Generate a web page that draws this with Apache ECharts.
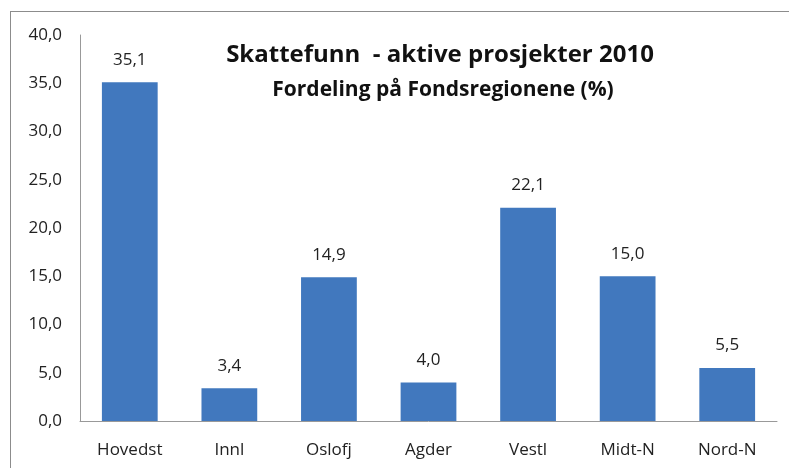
<!DOCTYPE html>
<html>
<head>
<meta charset="utf-8">
<script src="https://cdn.jsdelivr.net/npm/echarts@6/dist/echarts.min.js"></script>
<style>
  html, body { margin: 0; padding: 0; background: #fff; }
  #chart { width: 789px; height: 468px; position: relative; }
  /* rammen rundt diagrammet (bare topp og venstre synlig) */
  #frame { position: absolute; left: 10px; top: 11px; width: 800px; height: 500px;
           border-top: 1px solid #8c8c8c; border-left: 1px solid #8c8c8c; pointer-events: none; }
</style>
</head>
<body>
<div id="chart"></div>
<div id="frame"></div>
<script>
// fondsregioner
var regions = ['Hovedst', 'Innl', 'Oslofj', 'Agder', 'Vestl', 'Midt-N', 'Nord-N'];
// andel aktive prosjekter (%)
var shares = [35.1, 3.4, 14.9, 4.0, 22.1, 15.0, 5.5];
// y-akse
var yMin = 0, yMax = 40, yStep = 5;

var fontFam = '"Open Sans", "Noto Sans", sans-serif';

function komma(v) {
  return Number(v).toFixed(1).replace('.', ',');
}

var myChart = echarts.init(document.getElementById('chart'));

option = {
  backgroundColor: '#fff',
  animation: false,
  title: [
    {
      text: 'Skattefunn  - aktive prosjekter 2010',
      left: 435, top: 38, textAlign: 'center',
      textStyle: { fontFamily: fontFam, fontSize: 24, fontWeight: 'bold', color: '#111' }
    },
    {
      text: 'Fordeling på Fondsregionene (%)',
      left: 438, top: 75, textAlign: 'center',
      textStyle: { fontFamily: fontFam, fontSize: 21, fontWeight: 'bold', color: '#111' }
    }
  ],
  grid: { left: 80, right: 12, top: 35, bottom: 47 },
  xAxis: {
    type: 'category',
    data: regions,
    axisLine: { lineStyle: { color: '#999', width: 1 } },
    axisTick: { show: false },
    axisLabel: { color: '#222', fontFamily: fontFam, fontSize: 17, margin: 21 }
  },
  yAxis: {
    type: 'value',
    min: yMin, max: yMax, interval: yStep,
    splitLine: { show: false },
    axisLine: { show: true, lineStyle: { color: '#999', width: 1 } },
    axisTick: { show: false },
    axisLabel: { color: '#222', fontFamily: fontFam, fontSize: 17, margin: 18, formatter: komma }
  },
  series: [
    {
      type: 'bar',
      data: shares,
      barCategoryGap: '44%',
      itemStyle: { color: '#4178BE' },
      label: {
        show: true, position: 'top', distance: 14,
        color: '#222', fontFamily: fontFam, fontSize: 17,
        formatter: function (p) { return komma(p.value); }
      }
    }
  ]
};

myChart.setOption(option);
</script>
</body>
</html>
